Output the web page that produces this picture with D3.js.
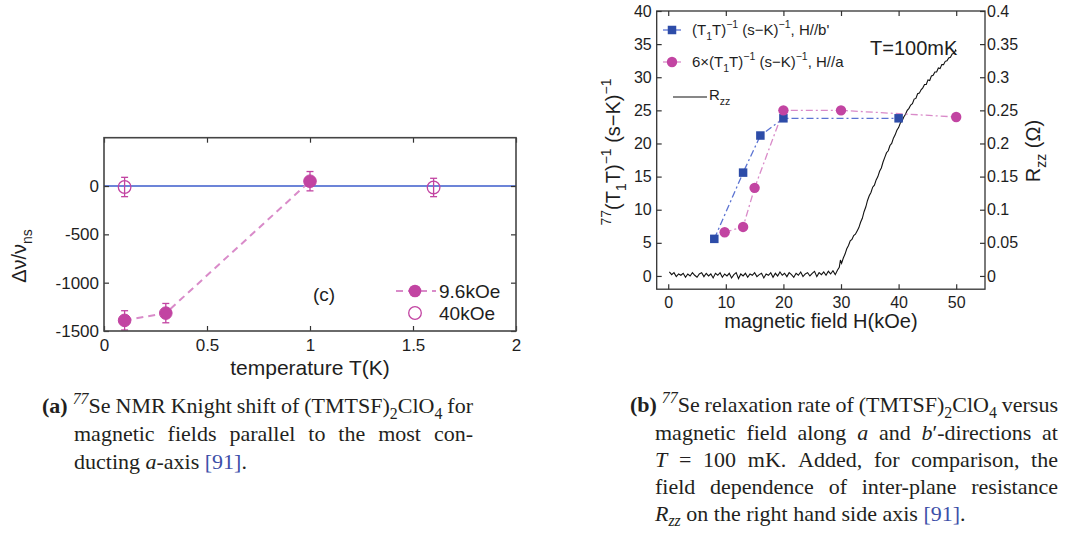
<!DOCTYPE html>
<html>
<head>
<meta charset="utf-8">
<script src="https://cdn.jsdelivr.net/npm/d3@7"></script>
<style>
  html, body { margin: 0; padding: 0; background: #fff; }
  svg { display: block; }
</style>
</head>
<body>
<svg id="fig" width="1078" height="537"></svg>
<script>
// ---- Panel (a): Knight shift versus temperature ----
const tempFilled  = [0.1, 0.3, 1.0];          // 9.6 kOe
const shiftFilled = [-1390, -1315, 50];
const errFilled   = [100, 100, 100];
const tempOpen    = [0.1, 1.6];               // 40 kOe
const shiftOpen   = [-10, -15];
const errOpen     = [100, 95];
const tempTicks   = [0, 0.5, 1, 1.5, 2];
const shiftTicks  = [-1500, -1000, -500, 0];

// ---- Panel (b): relaxation rate and R_zz versus field ----
const fieldB = [8, 13, 16, 20, 40];           // (T1T)^-1, H//b'
const rateB  = [5.6, 15.6, 21.2, 23.8, 23.8];
const fieldA = [9.8, 13, 15, 20, 30, 50];     // 6x(T1T)^-1, H//a
const rateA  = [6.6, 7.4, 13.3, 25, 25, 24];
const rzzField = [
  0.2, 0.6, 1.0, 1.4, 1.8, 2.2, 2.6, 3.0, 3.4, 3.8,
  4.2, 4.6, 5.0, 5.4, 5.8, 6.2, 6.6, 7.0, 7.4, 7.8,
  8.2, 8.6, 9.0, 9.4, 9.8, 10.2, 10.6, 11.0, 11.4, 11.8,
  12.2, 12.6, 13.0, 13.4, 13.8, 14.2, 14.6, 15.0, 15.4, 15.8,
  16.2, 16.6, 17.0, 17.4, 17.8, 18.2, 18.6, 19.0, 19.4, 19.8,
  20.2, 20.6, 21.0, 21.4, 21.8, 22.2, 22.6, 23.0, 23.4, 23.8,
  24.2, 24.6, 25.0, 25.4, 25.8, 26.2, 26.6, 27.0, 27.4, 27.8,
  28.2, 28.6, 29.0, 29.4,
  29.7, 29.9, 30.1, 30.4, 30.7, 31.0, 31.3, 31.6, 31.9, 32.2,
  32.5, 32.8, 33.1, 33.4, 33.7, 34.0, 34.3, 34.6, 34.9, 35.2,
  35.5, 35.8, 36.1, 36.4, 36.7, 37.0, 37.3, 37.6, 37.9, 38.2,
  38.5, 38.8, 39.1, 39.4, 39.7, 40.0, 40.3, 40.6, 40.9, 41.2,
  41.5, 41.8, 42.1, 42.4, 42.7, 43.0, 43.3, 43.6, 43.9, 44.2,
  44.5, 44.8, 45.1, 45.4, 45.7, 46.0, 46.3, 46.6, 46.9, 47.2,
  47.5, 47.8, 48.1, 48.4, 48.7, 49.0, 49.3, 49.6, 49.9, 50.0
];
const rzzValue = [
  0.006, 0.002, 0.005, -0.001, 0.003, 0.001, 0.004, -0.002, 0.003, 0.000,
  0.005, 0.001, -0.002, 0.003, 0.005, -0.001, 0.004, 0.000, 0.003, -0.003,
  0.004, 0.001, 0.005, -0.002, 0.003, 0.000, 0.004, -0.003, 0.002, 0.005,
  -0.004, 0.003, 0.000, 0.004, -0.002, 0.003, 0.001, 0.005, -0.001, 0.002,
  0.004, -0.003, 0.003, 0.001, 0.005, -0.002, 0.004, 0.000, 0.006, 0.001,
  0.004, -0.001, 0.005, 0.002, -0.002, 0.004, 0.001, 0.006, -0.001, 0.003,
  0.005, 0.000, 0.004, 0.007, -0.001, 0.005, 0.002, 0.006, 0.001, 0.007,
  0.003, 0.008, 0.002, 0.009,
  0.013, 0.024, 0.019, 0.027, 0.033, 0.041, 0.046, 0.053, 0.055, 0.061,
  0.063, 0.068, 0.073, 0.081, 0.087, 0.097, 0.104, 0.114, 0.121, 0.126,
  0.134, 0.137, 0.145, 0.150, 0.158, 0.163, 0.172, 0.179, 0.186, 0.189,
  0.197, 0.200, 0.208, 0.213, 0.220, 0.224, 0.231, 0.234, 0.240, 0.244,
  0.250, 0.253, 0.258, 0.260, 0.267, 0.268, 0.275, 0.276, 0.281, 0.284,
  0.289, 0.289, 0.296, 0.295, 0.302, 0.303, 0.308, 0.308, 0.314, 0.313,
  0.319, 0.319, 0.324, 0.325, 0.329, 0.330, 0.335, 0.336, 0.341, 0.339
];
const fieldTicks = [0, 10, 20, 30, 40, 50];
const rateTicks  = [0, 5, 10, 15, 20, 25, 30, 35, 40];
const rzzTicks   = [0, 0.05, 0.1, 0.15, 0.2, 0.25, 0.3, 0.35, 0.4];

// ---- Captions (markup: {b:..} bold, {i:..} italic, {sup:..}/{sub:..}, {ref:..}) ----
const captionA = [
  "{b:(a)} {isup:77}Se NMR Knight shift of (TMTSF){sub:2}ClO{sub:4} for",
  "magnetic fields parallel to the most con-",
  "ducting {i:a}-axis {ref:[91]}."
];
const captionB = [
  "{b:(b)} {isup:77}Se relaxation rate of (TMTSF){sub:2}ClO{sub:4} versus",
  "magnetic field along {i:a} and {i:b}′-directions at",
  "{i:T} = 100 mK. Added, for comparison, the",
  "field dependence of inter-plane resistance",
  "{i:R}{isub:zz} on the right hand side axis {ref:[91]}."
];

const SANS = "'Liberation Sans', Arial, Helvetica, sans-serif";
const SERIF = "'Liberation Serif', 'Times New Roman', serif";
const MAGENTA = "#c244a2";
const MAGENTA_LINE = "#d98bc9";
const BLUE = "#2d4ca8";
const BLUE_LINE = "#5b73d2";

const svg = d3.select("#fig");

// Text with super/subscript runs: runs = [[text, kind]], kind '' | 'sup' | 'sub'
function rich(sel, runs, size) {
  let off = 0;
  runs.forEach(([t, k]) => {
    const target = k === "sup" ? -0.45 * size : k === "sub" ? 0.3 * size : 0;
    const ts = sel.append("tspan").text(t).attr("font-size", k ? size * 0.7 : size);
    if (target !== off) ts.attr("dy", target - off);
    off = target;
  });
  return sel;
}

function styleAxis(g, size) {
  g.select(".domain").remove();
  g.selectAll(".tick line").attr("stroke", "#333").attr("stroke-width", 1.2);
  g.selectAll(".tick text").attr("fill", "#1e1e1e").attr("font-size", size).attr("font-family", SANS);
}

// ================= Panel (a) =================
const xA = d3.scaleLinear([0, 2], [104, 516]);
const yA = d3.scaleLinear([-1500, 500], [331, 137.7]);
const gA = svg.append("g");

gA.append("line")
  .attr("x1", xA(0)).attr("x2", xA(2)).attr("y1", yA(0)).attr("y2", yA(0))
  .attr("stroke", "#6c84d8").attr("stroke-width", 2);

gA.append("path")
  .datum(tempFilled.map((t, i) => [t, shiftFilled[i]]))
  .attr("d", d3.line().x(d => xA(d[0])).y(d => yA(d[1])))
  .attr("fill", "none").attr("stroke", MAGENTA_LINE).attr("stroke-width", 2)
  .attr("stroke-dasharray", "7,5");

function errorBars(g, xs, ys, es) {
  xs.forEach((t, i) => {
    const x = xA(t), y0 = yA(ys[i] - es[i]), y1 = yA(ys[i] + es[i]);
    g.append("line").attr("x1", x).attr("x2", x).attr("y1", y0).attr("y2", y1)
      .attr("stroke", MAGENTA).attr("stroke-width", 1.3);
    [y0, y1].forEach(yy => g.append("line").attr("x1", x - 3.5).attr("x2", x + 3.5)
      .attr("y1", yy).attr("y2", yy).attr("stroke", MAGENTA).attr("stroke-width", 1.3));
  });
}
errorBars(gA, tempOpen, shiftOpen, errOpen);
errorBars(gA, tempFilled, shiftFilled, errFilled);

gA.selectAll(".openPt").data(tempOpen).join("circle")
  .attr("cx", d => xA(d)).attr("cy", (d, i) => yA(shiftOpen[i])).attr("r", 6.3)
  .attr("fill", "none").attr("stroke", MAGENTA).attr("stroke-width", 1.3);
gA.selectAll(".fillPt").data(tempFilled).join("circle")
  .attr("cx", d => xA(d)).attr("cy", (d, i) => yA(shiftFilled[i])).attr("r", 6.3)
  .attr("fill", MAGENTA).attr("stroke", MAGENTA);

const axA = [
  gA.append("g").attr("transform", `translate(0,${yA(-1500)})`)
    .call(d3.axisBottom(xA).tickValues(tempTicks).tickFormat(d => String(d)).tickSizeInner(-5).tickSizeOuter(0).tickPadding(8)),
  gA.append("g").attr("transform", `translate(0,${yA(500)})`)
    .call(d3.axisTop(xA).tickValues(tempTicks).tickFormat("").tickSizeInner(-5).tickSizeOuter(0)),
  gA.append("g").attr("transform", `translate(${xA(0)},0)`)
    .call(d3.axisLeft(yA).tickValues(shiftTicks).tickFormat(d => String(d)).tickSizeInner(-5).tickSizeOuter(0).tickPadding(5)),
  gA.append("g").attr("transform", `translate(${xA(2)},0)`)
    .call(d3.axisRight(yA).tickValues(shiftTicks).tickFormat("").tickSizeInner(-5).tickSizeOuter(0))
];
axA.forEach(g => styleAxis(g, 17));

gA.append("rect")
  .attr("x", xA(0)).attr("y", yA(500)).attr("width", xA(2) - xA(0)).attr("height", yA(-1500) - yA(500))
  .attr("fill", "none").attr("stroke", "#454545").attr("stroke-width", 1.6);

gA.append("text").attr("x", (xA(0) + xA(2)) / 2).attr("y", 375)
  .attr("text-anchor", "middle").attr("font-family", SANS).attr("font-size", 21).attr("fill", "#1e1e1e")
  .text("temperature T(K)");

rich(gA.append("text").attr("transform", "translate(26,256) rotate(-90)")
  .attr("text-anchor", "middle").attr("font-family", SANS).attr("fill", "#1e1e1e"),
  [["Δν/ν", ""], ["ns", "sub"]], 20);

gA.append("text").attr("x", 324).attr("y", 301).attr("text-anchor", "middle")
  .attr("font-family", SANS).attr("font-size", 19).attr("fill", "#1e1e1e").text("(c)");

// legend (a)
gA.append("line").attr("x1", 395).attr("x2", 436).attr("y1", 291).attr("y2", 291)
  .attr("stroke", MAGENTA_LINE).attr("stroke-width", 2).attr("stroke-dasharray", "7,5").attr("stroke-dashoffset", -1);
gA.append("circle").attr("cx", 415).attr("cy", 291).attr("r", 6.3).attr("fill", MAGENTA);
gA.append("circle").attr("cx", 415).attr("cy", 313).attr("r", 6.3)
  .attr("fill", "none").attr("stroke", MAGENTA).attr("stroke-width", 1.3);
gA.append("text").attr("x", 439).attr("y", 297.5).attr("font-family", SANS).attr("font-size", 19)
  .attr("fill", "#1e1e1e").text("9.6kOe");
gA.append("text").attr("x", 439).attr("y", 320).attr("font-family", SANS).attr("font-size", 19)
  .attr("fill", "#1e1e1e").text("40kOe");

// ================= Panel (b) =================
const xB = d3.scaleLinear([-2, 55], [656.7, 985]);
const yB = d3.scaleLinear([-2, 40], [289.2, 11]);
const yR = d3.scaleLinear([-0.02, 0.4], [289.2, 11]);
const gB = svg.append("g");

gB.append("path")
  .datum(rzzField.map((h, i) => [h, rzzValue[i]]))
  .attr("d", d3.line().x(d => xB(d[0])).y(d => yR(d[1])))
  .attr("fill", "none").attr("stroke", "#111").attr("stroke-width", 1.1);

gB.append("path")
  .datum(fieldB.map((h, i) => [h, rateB[i]]))
  .attr("d", d3.line().x(d => xB(d[0])).y(d => yB(d[1])))
  .attr("fill", "none").attr("stroke", BLUE_LINE).attr("stroke-width", 1.3)
  .attr("stroke-dasharray", "7,3,2,3");
gB.append("path")
  .datum(fieldA.map((h, i) => [h, rateA[i]]))
  .attr("d", d3.line().x(d => xB(d[0])).y(d => yB(d[1])))
  .attr("fill", "none").attr("stroke", MAGENTA_LINE).attr("stroke-width", 1.3)
  .attr("stroke-dasharray", "7,3,2,3");

const SQ = 8.5;
gB.selectAll(".sq").data(fieldB).join("rect")
  .attr("x", d => xB(d) - SQ / 2).attr("y", (d, i) => yB(rateB[i]) - SQ / 2)
  .attr("width", SQ).attr("height", SQ).attr("fill", BLUE);
gB.selectAll(".ci").data(fieldA).join("circle")
  .attr("cx", d => xB(d)).attr("cy", (d, i) => yB(rateA[i])).attr("r", 5.2).attr("fill", MAGENTA);

const axB = [
  gB.append("g").attr("transform", `translate(0,${yB(-2)})`)
    .call(d3.axisBottom(xB).tickValues(fieldTicks).tickFormat(d => String(d)).tickSizeInner(-5).tickSizeOuter(0).tickPadding(7)),
  gB.append("g").attr("transform", `translate(0,${yB(40)})`)
    .call(d3.axisTop(xB).tickValues(fieldTicks).tickFormat("").tickSizeInner(-5).tickSizeOuter(0)),
  gB.append("g").attr("transform", `translate(${xB(-2)},0)`)
    .call(d3.axisLeft(yB).tickValues(rateTicks).tickFormat(d => String(d)).tickSizeInner(-5).tickSizeOuter(0).tickPadding(5)),
  gB.append("g").attr("transform", `translate(${xB(55)},0)`)
    .call(d3.axisRight(yR).tickValues(rzzTicks).tickFormat(d => String(d)).tickSizeInner(-5).tickSizeOuter(0).tickPadding(2))
];
axB.forEach(g => styleAxis(g, 16));

gB.append("rect")
  .attr("x", xB(-2)).attr("y", yB(40)).attr("width", xB(55) - xB(-2)).attr("height", yB(-2) - yB(40))
  .attr("fill", "none").attr("stroke", "#333").attr("stroke-width", 1.3);

gB.append("text").attr("x", (xB(-2) + xB(55)) / 2).attr("y", 328)
  .attr("text-anchor", "middle").attr("font-family", SANS).attr("font-size", 20).attr("fill", "#1e1e1e")
  .text("magnetic field H(kOe)");

rich(gB.append("text").attr("transform", "translate(620,152) rotate(-90)")
  .attr("text-anchor", "middle").attr("font-family", SANS).attr("fill", "#1e1e1e"),
  [["77", "sup"], ["(T", ""], ["1", "sub"], ["T)", ""], ["−1", "sup"], [" (s−K)", ""], ["−1", "sup"]], 20);

rich(gB.append("text").attr("transform", "translate(1040,151) rotate(-90)")
  .attr("text-anchor", "middle").attr("font-family", SANS).attr("fill", "#1e1e1e"),
  [["R", ""], ["zz", "sub"], [" (Ω)", ""]], 20);

gB.append("text").attr("x", 870).attr("y", 55).attr("font-family", SANS).attr("font-size", 20)
  .attr("fill", "#1e1e1e").text("T=100mK");

// legend (b)
gB.append("line").attr("x1", 663).attr("x2", 681).attr("y1", 30).attr("y2", 30)
  .attr("stroke", BLUE_LINE).attr("stroke-width", 1.3);
gB.append("rect").attr("x", 672 - SQ / 2).attr("y", 30 - SQ / 2).attr("width", SQ).attr("height", SQ).attr("fill", BLUE);
gB.append("line").attr("x1", 663).attr("x2", 681).attr("y1", 62).attr("y2", 62)
  .attr("stroke", MAGENTA_LINE).attr("stroke-width", 1.3);
gB.append("circle").attr("cx", 672).attr("cy", 62).attr("r", 5.2).attr("fill", MAGENTA);
gB.append("line").attr("x1", 673).attr("x2", 707).attr("y1", 97).attr("y2", 97)
  .attr("stroke", "#111").attr("stroke-width", 1.2);

rich(gB.append("text").attr("x", 692).attr("y", 35).attr("font-family", SANS).attr("fill", "#1e1e1e"),
  [["(T", ""], ["1", "sub"], ["T)", ""], ["−1", "sup"], [" (s−K)", ""], ["−1", "sup"], [", H//b'", ""]], 15);
rich(gB.append("text").attr("x", 692).attr("y", 67).attr("font-family", SANS).attr("fill", "#1e1e1e"),
  [["6×(T", ""], ["1", "sub"], ["T)", ""], ["−1", "sup"], [" (s−K)", ""], ["−1", "sup"], [", H//a", ""]], 15);
rich(gB.append("text").attr("x", 709).attr("y", 100).attr("font-family", SANS).attr("fill", "#1e1e1e"),
  [["R", ""], ["zz", "sub"]], 15);

// ================= Captions =================
const CAP = 22;
function captionWord(g, word) {
  const t = g.append("text").attr("font-family", SERIF).attr("font-size", CAP).attr("fill", "#231f20");
  const re = /\{(\w+):([^}]*)\}|([^{]+)/g;
  let m, off = 0;
  while ((m = re.exec(word)) !== null) {
    const kind = m[1] || "", txt = m[1] ? m[2] : m[3];
    const isSup = kind === "sup" || kind === "isup";
    const isSub = kind === "sub" || kind === "isub";
    const target = isSup ? -0.4 * CAP : isSub ? 0.25 * CAP : 0;
    const ts = t.append("tspan").text(txt).attr("font-size", (isSup || isSub) ? CAP * 0.72 : CAP);
    if (target !== off) ts.attr("dy", target - off);
    off = target;
    if (kind === "b") ts.attr("font-weight", "bold");
    if (kind === "i" || kind === "isup" || kind === "isub") ts.attr("font-style", "italic");
    if (kind === "ref") ts.attr("fill", "#3d4fa8");
  }
  return t;
}
function caption(lines, xFirst, xIndent, xEnd, baselines) {
  const g = svg.append("g");
  lines.forEach((line, li) => {
    const x0 = li === 0 ? xFirst : xIndent;
    const words = line.split(" ").map(w => captionWord(g, w));
    const widths = words.map(w => w.node().getComputedTextLength());
    const justify = li < lines.length - 1;
    const gap = justify ? (xEnd - x0 - d3.sum(widths)) / (words.length - 1) : CAP * 0.25;
    let x = x0;
    words.forEach((w, i) => { w.attr("x", x).attr("y", baselines[li]); x += widths[i] + gap; });
  });
}
caption(captionA, 42, 74, 473, [413, 441, 469]);
caption(captionB, 630, 655, 1058, [412, 439.5, 466.5, 493.5, 520.5]);
</script>
</body>
</html>
